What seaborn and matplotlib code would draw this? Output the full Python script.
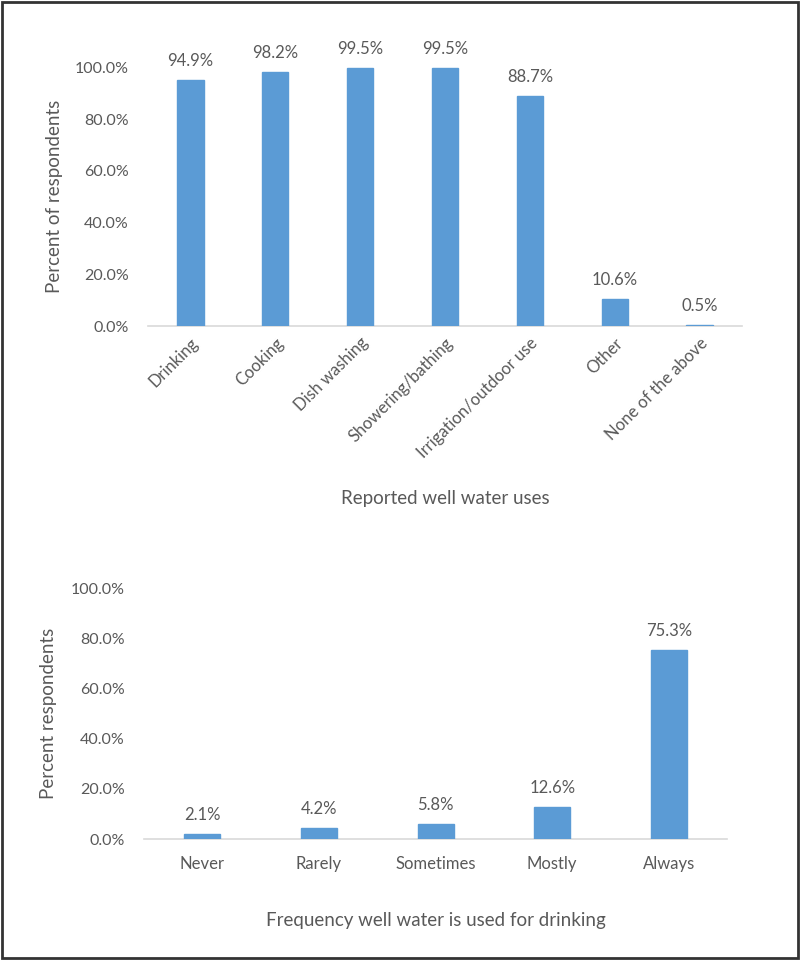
import matplotlib
matplotlib.use("Agg")
import matplotlib.pyplot as plt
import seaborn as sns
import pandas as pd
from matplotlib.patches import Rectangle

uses = ["Drinking", "Cooking", "Dish washing", "Showering/bathing",
        "Irrigation/outdoor use", "Other", "None of the above"]
uses_pct = [94.9, 98.2, 99.5, 99.5, 88.7, 10.6, 0.5]

freq = ["Never", "Rarely", "Sometimes", "Mostly", "Always"]
freq_pct = [2.1, 4.2, 5.8, 12.6, 75.3]

yticks = [0, 20, 40, 60, 80, 100]
ytick_labels = ["0.0%", "20.0%", "40.0%", "60.0%", "80.0%", "100.0%"]

sns.set_theme(style="white")
plt.rcParams['font.family'] = ['Lato', 'DejaVu Sans']

BAR = "#5B9BD5"
TXT = "#595959"
AX = "#D9D9D9"

fig = plt.figure(figsize=(8, 9.6), dpi=100)
ax1 = fig.add_axes([0.185, 0.660, 0.7425, 0.270])
ax2 = fig.add_axes([0.180, 0.126, 0.729, 0.2615])

df1 = pd.DataFrame({"use": uses, "pct": uses_pct})
df2 = pd.DataFrame({"freq": freq, "pct": freq_pct})

sns.barplot(data=df1, x="use", y="pct", color=BAR, width=0.31, ax=ax1,
            saturation=1, zorder=3, edgecolor=BAR, linewidth=1)
sns.barplot(data=df2, x="freq", y="pct", color=BAR, width=0.31, ax=ax2,
            saturation=1, zorder=3, edgecolor=BAR, linewidth=1)

for ax, ylab, xlab, lx, xly in [
        (ax1, "Percent of respondents", "Reported well water uses", -0.143, -0.63),
        (ax2, "Percent respondents", "Frequency well water is used for drinking", -0.149, -0.29)]:
    ax.set_ylim(0, 100)
    ax.set_yticks(yticks)
    ax.set_yticklabels(ytick_labels)
    for s in ["top", "right", "left"]:
        ax.spines[s].set_visible(False)
    ax.spines["bottom"].set_color(AX)
    ax.spines["bottom"].set_linewidth(1.2)
    ax.spines["bottom"].set_zorder(2)
    ax.tick_params(axis="both", length=0, colors=TXT, labelsize=11.5)
    ax.tick_params(axis="y", pad=14)
    ax.set_ylabel(ylab, color=TXT, fontsize=13.5)
    ax.set_xlabel(xlab, color=TXT, fontsize=13.5)
    ax.yaxis.set_label_coords(lx, 0.5)
    ax.xaxis.set_label_coords(0.5, xly)
    for c in ax.containers:
        labs = ax.bar_label(c, fmt="%.1f%%", padding=8, color=TXT, fontsize=12)
        for t in labs:
            t.set_clip_on(False)

ax1.set_xlim(-0.5, len(uses) - 0.5)
ax2.set_xlim(-0.5, len(freq) - 0.5)
ax1.tick_params(axis="x", pad=6, labelsize=12)
plt.setp(ax1.get_xticklabels(), rotation=45, ha="right", rotation_mode="anchor")
ax2.tick_params(axis="x", pad=12, labelsize=12)

fig.patches.append(Rectangle((0.002, 0.002), 0.995, 0.996, transform=fig.transFigure,
                             fill=False, edgecolor="#333333", linewidth=2))

fig.savefig("out.png", dpi=100, facecolor="white")
